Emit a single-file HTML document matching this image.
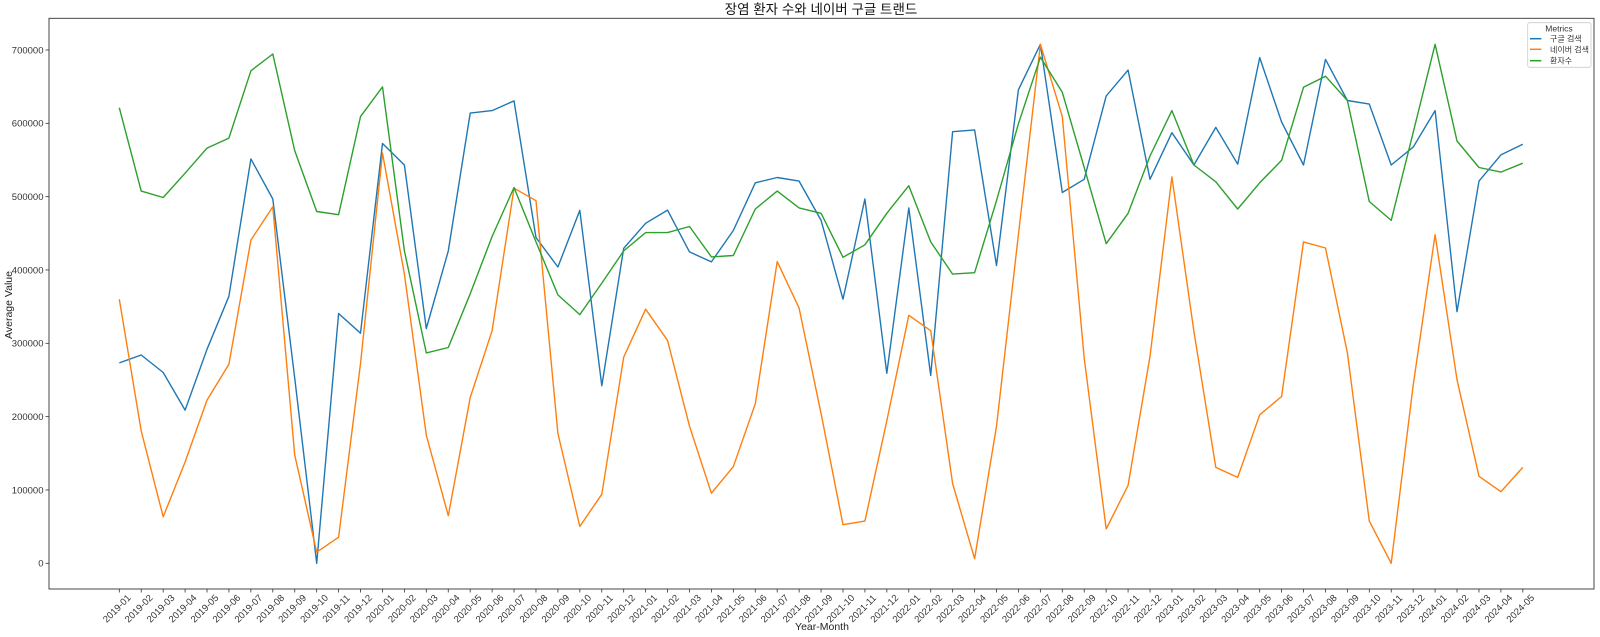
<!DOCTYPE html>
<html><head><meta charset="utf-8"><style>
html,body{margin:0;padding:0;background:#fff;}
svg{display:block;font-family:"Liberation Sans","Noto Sans CJK KR",sans-serif;}
</style></head><body>
<svg id="c" width="1600" height="637" xmlns="http://www.w3.org/2000/svg">
<rect x="0" y="0" width="1600" height="637" fill="#fff"/>
<g id="lines"></g>
<rect x="49" y="18.3" width="1545" height="570.7" fill="none" stroke="#333" stroke-width="0.9"/>
<g id="ax" fill="#333" font-size="9.5"></g>
<text x="821" y="14" text-anchor="middle" font-size="13.5" fill="#111">장염 환자 수와 네이버 구글 트랜드</text>
<text x="822" y="630" text-anchor="middle" font-size="10.5" fill="#222">Year-Month</text>
<text transform="translate(12,305) rotate(-90)" text-anchor="middle" font-size="10.5" fill="#222">Average Value</text>
<g>
<rect x="1527.7" y="22.7" width="63.3" height="44.6" fill="#fff" stroke="#ccc" stroke-width="0.8" rx="2"/>
<text x="1559" y="31.5" text-anchor="middle" font-size="8.5" fill="#333">Metrics</text>
<line x1="1530" y1="38.7" x2="1541.3" y2="38.7" stroke="#1f77b4" stroke-width="1.5"/>
<line x1="1530" y1="49.3" x2="1541.3" y2="49.3" stroke="#ff7f0e" stroke-width="1.5"/>
<line x1="1530" y1="60.7" x2="1541.3" y2="60.7" stroke="#2ca02c" stroke-width="1.5"/>
<text x="1550" y="41.5" font-size="8" fill="#333">구글 검색</text>
<text x="1550" y="52.3" font-size="8" fill="#333">네이버 검색</text>
<text x="1550" y="63.7" font-size="8" fill="#333">환자수</text>
</g>
</svg>
<script>
var B=[958,936,985,1090,920,772,388,500,1000,1518,820,875,345,405,862,645,260,253,226,608,690,532,
1022,638,568,531,648,676,588,455,440,450,560,780,500,987,525,993,312,307,686,195,68,482,
445,212,140,445,315,405,300,403,105,285,405,110,225,235,405,355,253,815,450,377,347];
var O=[780,1148,1388,1235,1062,962,615,522,1215,1487,1445,960,372,710,1160,1385,1055,868,470,505,1155,1415,
1325,942,808,895,1135,1322,1248,1072,675,805,1100,1410,1400,1120,825,868,1295,1505,1135,600,68,270,
945,1422,1300,940,438,870,1250,1278,1103,1052,620,637,930,1400,1518,1020,600,1005,1275,1318,1250];
var G=[245,478,496,428,358,330,142,95,365,535,544,270,187,645,930,915,765,605,468,620,768,823,
735,645,594,594,577,662,658,528,478,525,540,663,628,540,463,620,710,706,505,290,104,202,
412,625,540,380,253,405,452,528,455,392,188,157,225,507,560,314,68,338,412,425,400];
function X(i){return 119.3+21.93*i;}
function Y(z){return 20+z/2.794;}
var ns="http://www.w3.org/2000/svg";
function pl(d,c){var p=document.createElementNS(ns,"polyline");
p.setAttribute("points",d.map(function(v,i){return X(i).toFixed(1)+","+Y(v).toFixed(1)}).join(" "));
p.setAttribute("fill","none");p.setAttribute("stroke",c);p.setAttribute("stroke-width","1.4");
p.setAttribute("stroke-linejoin","round");document.getElementById("lines").appendChild(p);}
pl(B,"#1f77b4");pl(O,"#ff7f0e");pl(G,"#2ca02c");
var ax=document.getElementById("ax"),h="";
for(var k=0;k<=7;k++){var y=563.3-73.33*k;
h+='<line x1="45.5" y1="'+y+'" x2="49" y2="'+y+'" stroke="#333" stroke-width="0.8"/>';
h+='<text x="43.5" y="'+(y+3.3)+'" text-anchor="end">'+(k*100000)+'</text>';}
for(var i=0;i<65;i++){var yr=2019+Math.floor(i/12),m=i%12+1;var x=X(i);
h+='<line x1="'+x+'" y1="589" x2="'+x+'" y2="592.5" stroke="#333" stroke-width="0.8"/>';
h+='<text transform="translate('+(x-2)+',609) rotate(-45)" text-anchor="middle" dominant-baseline="central">'+yr+'-'+(m<10?'0'+m:m)+'</text>';}
ax.innerHTML=h;
</script>
</body></html>
